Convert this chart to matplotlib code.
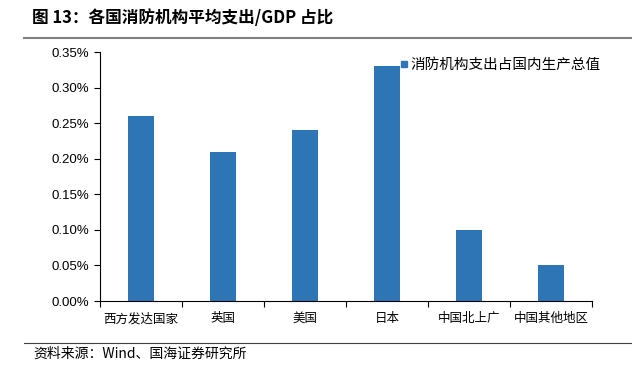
import numpy as np
import matplotlib
matplotlib.use('Agg')
import matplotlib.pyplot as plt
from matplotlib.lines import Line2D
from matplotlib.ticker import FuncFormatter, MultipleLocator

plt.rcParams['font.family'] = ['Noto Sans CJK SC', 'DejaVu Sans']

categories = ['西方发达国家', '英国', '美国', '日本', '中国北上广', '中国其他地区']
values = [0.26, 0.21, 0.24, 0.33, 0.10, 0.05]
series_name = '消防机构支出占国内生产总值'
title = '图 13：各国消防机构平均支出/GDP 占比'
source = '资料来源：Wind、国海证券研究所'
bar_color = '#2E75B6'

fig = plt.figure(figsize=(6.41, 3.65), dpi=100)
ax = fig.add_axes([0.156, 0.1753, 0.7676, 0.6822])

x = np.arange(len(categories))
ax.bar(x, values, width=0.32, color=bar_color, zorder=2)

ax.set_xlim(-0.5, len(categories) - 0.5)
ax.set_ylim(0, 0.35)
ax.yaxis.set_major_locator(MultipleLocator(0.05))
ax.yaxis.set_major_formatter(FuncFormatter(lambda v, p: '{:.2f}%'.format(v)))

ax.set_xticks(x)
ax.set_xticklabels(categories, fontsize=9)
ax.set_xticks(np.arange(-0.5, len(categories), 1), minor=True)
ax.tick_params(axis='x', which='major', length=0, pad=8)
ax.tick_params(axis='x', which='minor', length=4, direction='out', width=0.8)
ax.tick_params(axis='y', length=4, direction='out', width=0.8, labelsize=9.5)

for s in ['top', 'right']:
    ax.spines[s].set_visible(False)
for s in ['left', 'bottom']:
    ax.spines[s].set_linewidth(0.8)

for lbl in ax.get_yticklabels():
    lbl.set_fontfamily(['Liberation Sans', 'DejaVu Sans'])

handle = Line2D([], [], linestyle='none', marker='s', markersize=5,
                markerfacecolor=bar_color, markeredgecolor=bar_color)
ax.legend([handle], [series_name], loc='upper right', bbox_to_anchor=(1.045, 1.03),
          frameon=False, fontsize=10.5, handlelength=0.6, handletextpad=0.2)

fig.text(0.05, 0.95, title, fontsize=12, fontweight='bold', va='center', ha='left')
fig.add_artist(Line2D([0.038, 0.985], [0.896, 0.896], color='#808080', lw=1.5))
fig.add_artist(Line2D([0.038, 0.985], [0.06, 0.06], color='#404040', lw=0.8))
fig.text(0.052, 0.03, source, fontsize=10, va='center', ha='left')

fig.savefig('out.png', dpi=100)
